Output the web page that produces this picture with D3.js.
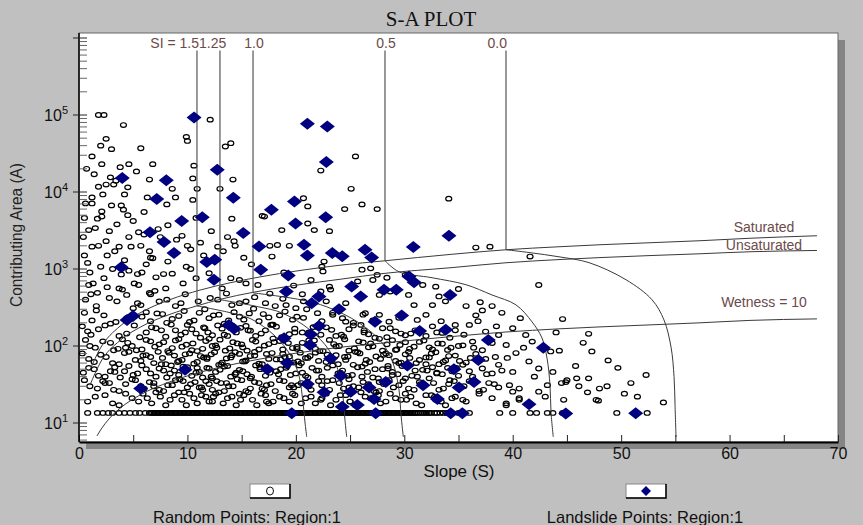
<!DOCTYPE html>
<html>
<head>
<meta charset="utf-8">
<script src="https://cdn.jsdelivr.net/npm/d3@7"></script>
<style>
body { margin: 0; background: #c0c0c0; }
svg { display: block; font-family: "Liberation Sans", Arial, sans-serif; }
</style>
</head>
<body>
<svg id="chart" width="863" height="525"></svg>
<script>
"use strict";

// random points [slope, contributing area]
var randomUpper = [
	[1.8,100000],[2.3,100000],[4.1,74000],[2.5,49000],[3.0,36000],[5.7,37000],[1.2,29000],[2.1,23000],[4.6,23000],[3.8,21000],
	[1.4,17000],[2.9,15500],[1.8,11700],[2.5,12500],[3.2,12500],[4.5,11500],[2.2,9300],[4.2,9300],[1.2,8500],[0.6,7100],
	[1.2,7100],[3.0,6700],[3.9,6700],[4.1,5900],[4.5,5000],[0.5,4600],[2.1,4800],[1.7,4500],[3.5,3800],[6.5,14500],
	[6.3,8500],[8.9,8500],[8.1,6900],[9.9,52000],[10.0,46000],[12.1,87000],[10.6,22000],[10.5,15000],[10.9,11000],[10.5,7900],
	[13.5,39000],[14.0,43000],[13.0,11000],[14.2,14500],[14.1,4500],[16.9,4900],[17.1,4800],[10.8,4600],
	[25.5,29000],[22.3,19000],[25.1,11000],[20.7,8300],[21.1,6500],[26.1,6900],[24.5,6000],[27.5,6000],[34.1,8200],[21.1,3900],
	[2.1,5600],[0.9,3200],[5.0,4200],[6.0,5500],[8.2,3700],[9.5,2700],[11.2,2200],[3.4,14000],[5.3,18500],[0.7,20000],
	[2.0,40000],[6.8,23000],[8.6,11000]
];

var randomMid = [
	[2.8,3100],[4.6,2600],[5.5,3000],[6.0,2800],[7.3,3300],[7.5,2600],[12.2,3100],[13.7,2600],[14.3,2300],[18.7,3200],
	[17.6,2000],[18.3,2050],[19.4,2000],[1.2,1950],[1.8,2000],[3.7,1950],[4.8,1950],[5.7,2000],[6.5,1700],[6.6,1400],
	[6.8,1380],[10.0,2000],[10.3,1800],[12.8,1950],[13.3,1700],[14.4,2000],[15.2,1400],[2.0,1070],[3.1,1000],[4.6,950],
	[5.4,860],[5.8,900],[5.1,650],[5.5,620],[7.8,860],[8.6,870],[9.9,1070],[10.3,1000],[10.8,760],[14.0,760],
	[14.8,720],[15.4,650],[1.3,650],[0.9,620],[2.3,760],[3.7,560],[4.0,540],[1.7,490],[1.1,470],[0.6,400],
	[2.8,420],[5.7,340],[5.4,360],[6.5,490],[6.6,470],[7.4,380],[8.1,400],[8.9,330],[9.4,360],[12.1,420],
	[12.8,400],[14.1,340],[14.8,360],[15.4,380],[17.2,360],[18.1,330],[19.1,340],[20.0,310],
	[21.7,3200],[23.1,3100],[36.6,1900],[37.9,1950],[41.6,1450],[22.6,1250],[22.4,1070],[22.5,930],[26.1,980],[26.9,1020],
	[27.5,840],[28.4,770],[21.4,720],[23.1,590],[25.7,690],[27.1,720],[30.1,840],[31.7,620],[32.9,590],[33.2,440],
	[35.0,550],[42.4,620],[28.7,510],[30.4,460],[30.9,340],[27.7,460],[22.3,510],[23.2,540],[20.7,380],[22.8,380],
	[24.6,360],[32.6,340],[33.8,380],[35.7,330],[36.6,250],[37.2,290],[38.1,330],[37.0,370],[39.0,270],
	[26.4,267],[27.7,254],[28.6,207],[29.5,232],[31.2,218],[32.0,254],[33.4,210],[34.7,188],[20.7,232],[22.0,267],
	[23.4,254],[24.6,207],[36.0,188],[37.5,154],[38.7,139],[40.0,170],[36.3,114],[38.1,109],[39.4,103],[41.2,139],
	[41.8,114],[43.5,85],[40.3,81],[41.5,63],[38.7,57],[40.0,46],[42.4,51],[43.7,46],[43.2,31],[42.4,25.5],
	[43.0,22],[40.0,25.5],[40.6,21],[39.4,17],
	[0.4,2600],[1.5,3400],[2.5,2300],[3.3,1700],[4.2,1300],[0.8,1200],[2.6,1500],[3.9,850],[6.2,1150],[7.1,780],
	[8.2,1250],[9.0,2400],[9.6,650],[11.5,1500],[12.0,880],[13.2,560],[15.9,1150],[16.5,620],[17.8,1450],[18.9,900],
	[19.8,610],[1.6,330],[2.6,580],[3.5,380],[4.4,460],[7.0,520],[8.0,560],[9.8,470],[11.0,380],[13.6,480],
	[16.2,430],[17.6,480],[18.8,410],[20.6,470],[1.0,900],[0.5,1500]
];

var randomLeftRows = [
	[0.5,270],[1.2,215],[2.3,250],[3.4,205],[5.8,240],[6.2,275],[6.6,210],[7.7,260],[8.6,225],[9.2,245],[10.2,205],
	[11.1,270],[12.0,230],[12.9,255],[13.8,215],[14.8,240],[15.7,265],[16.6,210],[17.5,235],[18.5,250],[19.7,220],
	[0.3,180],[1.1,140],[1.8,165],[3.7,135],[5.1,185],[6.2,150],[7.1,170],[8.0,132],[8.9,160],[10.0,188],
	[10.8,145],[11.5,175],[12.3,138],[13.2,168],[14.5,150],[15.4,182],[16.3,135],[17.2,160],[18.2,178],[19.4,142],
	[0.6,120],[1.5,95],[2.9,110],[3.2,88],[4.0,122],[4.9,100],[5.8,90],[6.6,115],[7.4,105],[8.2,86],[8.9,118],[9.5,98],
	[10.5,108],[11.4,92],[12.0,124],[12.6,102],[13.5,87],[14.2,112],[15.1,96],[16.0,120],[16.6,90],[17.5,106],[18.5,116],[19.7,94],
	[0.3,80],[1.4,62],[2.5,72],[3.7,58],[4.6,84],[5.2,66],[6.2,76],[6.9,60],[7.7,70],[8.3,82],[9.2,64],[9.8,78],[10.6,59],
	[11.2,74],[11.8,68],[12.5,83],[13.2,61],[14.0,71],[14.8,79],[15.4,65],[16.2,75],[16.9,58],[17.8,81],[18.6,67],[19.4,73],[20.2,63],
	[0.9,52],[1.8,41],[2.9,47],[3.8,39],[4.6,55],[5.4,44],[6.2,50],[7.1,40],[7.8,48],[8.5,56],[9.2,42],[10.0,53],[10.8,45],
	[11.4,39],[12.0,51],[12.6,46],[13.4,54],[14.0,40],[14.8,49],[15.5,43],[16.3,56],[17.2,41],[18.2,47],[19.1,52],[20.0,44],
	[0.5,36],[1.7,28],[2.8,33],[3.7,26],[4.9,37],[5.7,30],[6.5,34],[7.4,27],[8.2,31],[8.9,36],[9.7,25],[10.3,32],[11.1,29],
	[11.7,35],[12.3,27],[13.1,33],[13.8,30],[14.6,37],[15.4,26],[16.2,34],[16.9,28],[17.7,32],[18.5,36],[19.4,29],[20.2,31],
	[1.5,22],[3.1,18],[4.3,24],[5.5,19],[6.3,21],[7.1,25],[8.0,17],[8.8,23],[9.5,20],[10.2,24],[10.9,18],
	[11.7,22],[12.3,19],[12.9,25],[13.7,21],[14.5,17],[15.2,23],[16.0,20],[16.8,24],[17.5,18],[18.5,22],[19.4,19]
];

var randomRightRows = [
	[21.2,150],[22.8,175],[23.7,135],[24.9,165],[26.0,188],[26.7,142],[28.0,170],[29.2,155],[30.1,138],[32.6,180],[33.5,148],[34.7,160],
	[20.6,110],[21.8,92],[23.1,120],[24.0,100],[24.9,87],[25.8,115],[26.7,96],[27.7,124],[28.4,105],[29.2,89],[30.1,112],
	[30.9,98],[31.8,118],[32.6,90],[33.5,107],[34.3,95],[35.4,102],[37.2,88],
	[20.9,70],[21.8,82],[22.8,62],[23.7,76],[24.6,66],[25.5,84],[26.4,59],[27.4,73],[28.3,80],[29.2,64],[30.1,78],
	[31.1,60],[32.0,71],[32.9,83],[33.8,65],[34.7,75],[35.7,61],[36.6,79],[37.5,68],[38.4,72],
	[20.6,45],[21.5,52],[22.4,40],[23.4,56],[24.3,48],[25.2,42],[26.1,54],[27.1,39],[28.0,50],[28.9,46],[29.8,55],
	[30.7,41],[31.7,49],[32.6,53],[33.5,43],[34.4,47],[35.4,57],[36.3,40],[37.2,51],[38.1,44],[39.0,48],
	[21.2,30],[22.1,35],[23.1,27],[24.0,33],[24.9,37],[25.8,29],[26.7,32],[27.7,26],[28.6,36],[29.5,31],[30.4,28],
	[31.4,34],[32.3,38],[33.2,27],[34.1,32],[35.1,30],[36.0,35],[36.9,26],[37.8,33],[38.7,29],[39.7,31],[40.6,28],
	[20.9,21],[21.8,18],[22.8,24],[23.7,20],[24.6,23],[25.5,17],[26.4,22],[27.4,25],[28.3,19],[29.2,21],[30.1,24],
	[31.1,18],[32.0,23],[32.9,20],[33.8,17],[34.7,22],[35.7,19],[36.9,24],[38.1,21],[39.4,18],[40.6,20]
];

var randomCore = [
	[8.4,44],[9.1,62],[9.6,35],[10.4,88],[10.9,52],[11.3,29],[11.8,71],[12.2,40],[12.7,95],[13.1,58],[13.6,33],[14.1,76],
	[14.5,45],[15.0,105],[15.3,63],[15.8,38],[16.2,84],[16.7,50],[17.1,27],[17.5,68],[18.0,112],[18.4,43],[18.8,79],[19.2,55],
	[19.6,31],[20.1,92],[20.5,60],[20.9,41],[21.3,74],[21.7,118],[22.1,48],[22.5,86],[22.9,35],[23.3,64],[23.7,99],[24.1,45],
	[24.5,72],[24.9,29],[25.3,57],[25.7,83],[26.1,40],[26.5,66],[26.9,108],[27.3,50],[27.7,34],[28.1,77],[28.5,55],[28.9,42],
	[29.3,90],[29.7,61],[30.1,38],[30.5,70],[31.0,48],[31.5,32],[32.0,58],[32.5,80],[33.0,44],[33.6,62],[34.2,36],[34.8,52],
	[9.8,150],[11.6,170],[13.4,140],[15.6,160],[17.8,190],[19.9,150],[22.0,175],[24.2,140],[26.3,160],[28.4,130],[30.6,145],
	[12.4,22],[14.8,24],[17.3,19],[19.9,23],[22.4,21],[25.0,19],[27.6,23],[30.2,20],[32.8,22],[6.9,30],[7.6,58],[5.9,75],
	[4.3,95],[3.3,46],[2.4,33]
];

// second, offset pass through the dense core
var randomCoreB = [
	[1.6,290],[2.9,195],[4.4,230],[5.0,310],[7.2,265],[8.1,200],[9.7,285],[10.6,215],[11.6,300],[12.4,250],[13.4,195],
	[14.3,275],[15.2,220],[16.1,305],[17.0,260],[17.9,190],[19.0,280],[20.1,240],[21.0,300],[22.4,210],[23.4,270],
	[24.3,230],[25.3,200],[26.2,255],[27.1,215],
	[0.8,155],[2.4,185],[4.4,145],[5.6,130],[6.7,175],[7.6,160],[8.5,190],[9.4,140],[10.4,165],[11.2,128],[11.9,150],
	[12.8,185],[13.7,135],[14.9,172],[15.8,158],[16.8,145],[17.7,188],[18.7,130],[19.9,168],[20.6,150],[21.6,176],
	[22.3,140],[23.3,162],[24.4,132],[25.3,185],[26.3,150],[27.3,128],[28.7,170],[29.7,145],[31.0,160],[32.0,135],
	[33.0,150],[34.2,128],[35.5,140],
	[1.0,100],[2.2,115],[3.6,92],[4.5,110],[5.3,88],[6.2,120],[7.0,98],[7.8,112],[8.6,94],[9.2,123],[9.9,104],[10.9,86],
	[11.7,116],[12.3,100],[13.0,121],[13.9,93],[14.6,108],[15.5,87],[16.3,114],[17.1,101],[17.9,125],[18.8,90],[19.3,109],
	[20.1,97],[21.2,118],[22.2,86],[23.5,106],[24.5,122],[25.4,93],[26.2,111],[27.1,99],[28.0,87],[28.9,119],[29.6,103],
	[30.5,92],[31.4,113],[32.3,96],[33.1,108],[34.0,89],[35.0,100],[36.4,95],
	[0.9,68],[2.0,77],[3.1,60],[4.2,81],[5.7,64],[6.6,72],[7.3,84],[8.0,58],[8.8,75],[9.5,66],[10.2,80],[10.9,62],[11.5,71],
	[12.2,78],[12.9,57],[13.6,69],[14.4,83],[15.1,63],[15.8,74],[16.6,59],[17.3,79],[18.2,67],[19.0,72],[19.8,61],[20.4,82],
	[21.1,70],[22.1,64],[22.9,77],[23.9,58],[24.8,73],[25.9,80],[26.8,62],[27.8,68],[28.6,76],[29.5,60],[30.4,84],[31.4,66],
	[32.3,71],[33.2,58],[34.1,74],[35.1,64],[36.1,70],
	[0.4,45],[1.4,50],[2.4,40],[3.3,53],[4.2,47],[5.0,42],[5.8,56],[6.6,44],[7.4,51],[8.1,39],[8.8,48],[9.6,54],[10.4,41],
	[11.1,46],[11.8,52],[12.3,38],[13.0,49],[13.7,55],[14.4,43],[15.1,47],[15.9,40],[16.7,53],[17.6,45],[18.6,50],[19.5,42],
	[20.3,56],[21.1,39],[21.9,48],[22.9,52],[23.9,44],[24.8,41],[25.7,53],[26.6,46],[27.6,38],[28.5,51],[29.4,43],[30.3,55],
	[31.2,40],[32.1,48],[33.0,45],[34.0,52],[35.0,41],[36.0,47],[37.6,43],
	[1.0,30],[2.2,35],[3.2,27],[4.3,32],[5.2,36],[6.0,28],[6.9,33],[7.8,26],[8.6,31],[9.3,37],[10.0,29],[10.7,34],[11.4,27],
	[12.0,32],[12.7,35],[13.4,26],[14.2,30],[15.0,36],[15.8,28],[16.6,33],[17.3,31],[18.1,26],[18.9,35],[19.8,29],[20.5,33],
	[21.4,27],[22.4,31],[23.4,36],[24.4,28],[25.3,30],[26.2,34],[27.2,26],[28.1,32],[29.0,29],[29.9,35],[30.9,27],[31.8,31],
	[32.7,33],[33.6,28],[34.6,35],[35.5,30],[37.3,27],[38.3,32],
	[0.8,19],[2.4,23],[3.7,17],[4.9,21],[5.9,24],[6.7,18],[7.5,22],[8.4,20],[9.2,25],[9.9,17],[10.6,21],[11.3,23],[12.0,19],
	[12.6,24],[13.3,18],[14.1,22],[14.9,20],[15.6,25],[16.4,17],[17.2,23],[17.9,19],[18.9,21],[19.7,24],[20.5,18],[21.4,22],
	[22.3,20],[23.2,17],[24.1,23],[25.0,19],[26.0,25],[26.9,21],[27.8,18],[28.7,24],[29.7,20],[30.6,22],[31.6,17],[32.5,23],
	[33.4,19],[34.4,21],[35.4,20]
];

var randomFar = [
	[44.6,224],[47.0,144],[44.3,87],[47.3,85],[49.7,52],[47.0,38],[44.9,34],[44.5,33],[46.1,30],[46.9,25],[48.0,28],
	[48.7,30],[50.9,33],[44.7,20],[47.9,19.5],[53.9,18.5],[45.0,36],[45.9,38],[47.7,20],
	[39.5,70],[41.0,95],[42.0,40],[45.8,55],[46.5,110],[48.8,65],[50.3,24],[51.5,22],[52.3,42],[44.0,150],[40.7,230],
	[38.5,180],[36.8,210]
];

// the floor row of random points sits at one area value
var floorArea = 13.5;
var floorSlopes = [
	0.8,1.7,2.2,2.7,3.1,3.7,4.2,4.7,5.2,5.6,6.1,
	6.5,6.8,7.1,7.4,7.7,8.0,8.3,8.6,8.9,9.2,9.5,9.8,10.1,10.4,10.7,11.0,11.3,11.6,11.9,12.2,12.5,12.8,13.1,13.4,13.7,14.0,
	14.3,14.6,14.9,15.2,15.5,15.8,16.1,16.4,16.7,17.0,17.3,17.6,17.9,18.2,18.5,18.8,19.1,19.4,19.7,20.0,20.3,20.6,20.9,
	21.2,21.5,21.8,22.1,22.4,22.7,23.0,23.3,23.6,23.9,24.2,24.5,24.8,25.1,25.4,25.7,26.0,26.3,26.6,26.9,27.2,27.5,27.8,
	28.1,28.4,28.7,29.0,29.3,29.6,29.9,30.2,30.5,30.8,31.1,31.5,31.9,32.3,32.8,33.3,33.9,
	35.0,36.0,38.8,40.0,41.6,42.2,43.2,43.7,44.6,49.6,52.4
];
var floorSlopesDense = [
	6.65,6.95,7.25,7.55,7.85,8.15,8.45,8.75,9.05,9.35,9.65,9.95,10.25,10.55,10.85,11.15,11.45,11.75,12.05,12.35,12.65,
	12.95,13.25,13.55,13.85,14.15,14.45,14.75,15.05,15.35,15.65,15.95,16.25,16.55,16.85,17.15,17.45,17.75,18.05,18.35,
	18.65,18.95,19.25,19.55,19.85,20.15,20.45,20.75,21.05,21.35,21.65,21.95,22.25,22.55,22.85,23.15,23.45,23.75,24.05,
	24.35,24.65,24.95,25.25,25.55,25.85,26.15,26.45,26.75,27.05,27.35,27.65,27.95,28.25,28.55,28.85,29.15,29.45,29.75,
	30.05,30.35,30.65,30.95,31.3,31.7,32.1,32.5,33.0,33.6
];

// landslide points [slope, contributing area]
var landslides = [
	[10.61,93000],[21.06,77000],[22.90,71000],[12.75,19500],[3.99,15200],[8.05,14200],[14.23,8400],[7.17,8100],
	[17.74,5900],[19.87,7500],[11.37,4700],[9.47,4200],[19.97,3900],[22.81,24500],[22.75,4700],[34.12,2700],
	[6.55,3000],[7.84,2240],[8.76,1610],[3.90,1050],[11.78,1230],[12.52,1320],[12.45,725],[15.15,2930],
	[16.60,1960],[16.76,980],[19.30,823],[19.12,509],[4.43,218],[4.98,246],[13.83,188],[14.29,167],
	[18.91,126],[19.21,60],[17.37,50],[9.78,49],[5.69,28],[19.62,13.4],[20.75,2070],[21.06,1500],
	[23.36,1610],[24.28,1460],[26.38,1780],[26.99,1410],[30.83,1930],[30.43,798],[30.90,675],[25.15,592],
	[25.98,439],[28.13,537],[29.26,537],[34.22,458],[22.13,439],[21.46,360],[23.98,301],[29.76,249],
	[27.30,207],[31.42,157],[33.82,162],[22.13,182],[21.37,142],[21.30,103],[37.75,120],[42.82,95],
	[23.21,69],[36.83,66],[30.28,56],[34.58,50],[24.14,41],[21.06,32],[28.29,34],[36.43,34],
	[26.75,29],[31.73,31],[35.05,29],[22.60,25],[25.06,25.5],[27.21,20.5],[33.05,20.5],[25.67,17.1],
	[24.28,16.3],[41.50,17.5],[27.36,13.4],[34.28,13.4],[35.35,13.4],[44.89,13.3],[51.34,13.4]
];

// stability index lines: vertical part, then the bend to the dry slope
var siLabels = ["SI = 1.5", "1.25", "1.0", "0.5", "0.0"];
var siCurves = [
	[[10.88,690000],[10.88,332],[14.02,269],[15.86,225],[18.08,135],[19.55,74],[20.29,41],[20.66,18.2],[20.84,10.3],[21.0,6.6]],
	[[13.0,690000],[13.0,400],[16.6,322],[18.72,269],[21.3,162],[23.05,89],[23.88,49],[24.35,21.8],[24.53,10.9],[24.69,6.6]],
	[[16.05,690000],[16.05,490],[20.38,400],[22.87,322],[25.82,200],[27.94,110],[28.96,60],[29.51,27],[29.7,12.7],[29.91,6.6]],
	[[28.22,690000],[28.22,1280],[29.51,920],[32.56,770],[35.69,625],[38.09,460],[40.3,342],[41.78,206],[42.7,127],[43.16,70],[43.44,31],[43.53,13.9],[43.74,6.6]],
	[[39.38,690000],[39.38,1780],[41.59,1630],[44.27,1440],[47.03,1210],[50.45,725],[52.84,400],[53.95,218],[54.6,97],[54.88,40],[54.97,17],[55.06,6.6]]
];

var wetLabels = ["Saturated", "Unsaturated", "Wetness = 10"];
var saturatedLine = [[1.01,49],[1.94,92],[3.78,181],[5.63,269],[8.39,400],[11.16,532],[13.93,662],[16.69,789],[20.29,953],[24.07,1120],[28.22,1279],[34.22,1545],[39.38,1778],[44.27,1945],[48.05,2066],[52.66,2193],[57.27,2329],[61.88,2508],[68.06,2702]];
var unsaturatedLine = [[1.01,31],[1.94,60],[3.78,118],[5.63,175],[8.39,258],[10.88,332],[13.0,403],[16.05,498],[20.29,624],[24.07,735],[28.22,879],[34.22,1037],[39.38,1205],[44.27,1326],[48.05,1407],[52.66,1494],[57.27,1577],[61.88,1675],[68.06,1741]];
var wetnessLine = [[1.66,6.8],[1.94,7.9],[2.86,11.7],[3.78,15.5],[5.63,23.1],[8.39,34.3],[11.16,45.6],[13.93,56.7],[16.69,67.7],[20.29,81.8],[24.07,96.2],[28.22,110],[34.22,132],[39.38,152],[44.27,167],[48.05,177],[52.66,188],[57.27,200],[61.88,215],[68.06,225]];

var xTicks = [0, 5, 10, 15, 20, 25, 30, 35, 40, 45, 50, 55, 60, 65, 70];
var yExponents = [1, 2, 3, 4, 5];
var legendLabels = ["Random Points: Region:1", "Landslide Points: Region:1"];

var svg = d3.select("#chart");
const pL = 79, pR = 838, pT = 33, pB = 442;
const labelColour = "#6b4a4a";

let x = d3.scaleLinear().domain([0, 70]).range([pL, pR]);
let y = d3.scaleLog().domain([10, 1e5]).range([423, 115]);

// background, shadow and frame
svg.append("rect").attr("width", 863).attr("height", 525).attr("fill", "#c0c0c0");
svg.append("rect")
	.attr("x", pL + 7).attr("y", pT + 7)
	.attr("width", pR - pL).attr("height", pB - pT)
	.attr("fill", "#858585");
svg.append("rect")
	.attr("x", pL).attr("y", pT)
	.attr("width", pR - pL).attr("height", pB - pT)
	.attr("fill", "#fff").attr("stroke", "#666").attr("stroke-width", 1);

svg.append("clipPath").attr("id", "plotClip")
	.append("rect").attr("x", pL).attr("y", pT).attr("width", pR - pL).attr("height", pB - pT);

svg.append("text")
	.attr("x", 431).attr("y", 26)
	.attr("text-anchor", "middle")
	.style("font-family", "'Liberation Serif', 'Times New Roman', serif")
	.style("font-size", "21px")
	.attr("fill", "#111")
	.text("S-A PLOT");

let plot = svg.append("g").attr("clip-path", "url(#plotClip)");

// random points
let floorPoints = floorSlopes.concat(floorSlopesDense).map(s => [s, floorArea]);
let allRandom = randomUpper.concat(randomMid, randomLeftRows, randomRightRows, randomCore, randomCoreB, randomFar, floorPoints);

plot.append("g").selectAll("ellipse")
	.data(allRandom)
	.enter()
	.append("ellipse")
		.attr("cx", d => x(d[0]))
		.attr("cy", d => y(d[1]))
		.attr("rx", 3)
		.attr("ry", 2.3)
		.attr("fill", "none")
		.attr("stroke", "#000")
		.attr("stroke-width", 1.2);

// model lines
let lineGen = d3.line().x(d => x(d[0])).y(d => y(d[1]));
let smoothX = d3.line().x(d => x(d[0])).y(d => y(d[1])).curve(d3.curveMonotoneX);
let bend = d3.line().x(d => x(d[0])).y(d => y(d[1])).curve(d3.curveCatmullRom.alpha(0.5));

[saturatedLine, unsaturatedLine, wetnessLine].forEach((pts) => {
	plot.append("path").attr("d", smoothX(pts))
		.attr("fill", "none").attr("stroke", "#3a3a3a").attr("stroke-width", 1);
});

siCurves.forEach((pts) => {
	plot.append("path").attr("d", lineGen(pts.slice(0, 2)))
		.attr("fill", "none").attr("stroke", "#555").attr("stroke-width", 1.2);
	plot.append("path").attr("d", bend(pts.slice(1)))
		.attr("fill", "none").attr("stroke", "#3a3a3a").attr("stroke-width", 1);
});

// landslides on top
plot.append("g").selectAll("path")
	.data(landslides)
	.enter()
	.append("path")
		.attr("d", "M0,-6L7.5,0L0,6L-7.5,0Z")
		.attr("transform", d => `translate(${x(d[0])},${y(d[1])})`)
		.attr("fill", "#000080");

// SI labels across the top; "SI = 1.5" and "1.25" run together
let siX = [x(siCurves[0][0][0]) + 2, x(siCurves[0][0][0]) + 2, x(siCurves[2][0][0]) + 1, x(siCurves[3][0][0]) + 1, x(siCurves[4][0][0]) + 1];
let siAnchor = ["end", "start", "middle", "middle", "end"];
siLabels.forEach((label, i) => {
	svg.append("text")
		.attr("x", siX[i])
		.attr("y", 48)
		.attr("text-anchor", siAnchor[i])
		.style("font-size", "14px")
		.attr("fill", labelColour)
		.text(label);
});

// wetness labels at the right end
let wetY = [saturatedLine, unsaturatedLine, wetnessLine].map(l => l[l.length - 1][1]);
let wetLift = [4, 0, 12];
wetLabels.forEach((label, i) => {
	svg.append("text")
		.attr("x", 764)
		.attr("y", y(wetY[i]) - wetLift[i])
		.attr("text-anchor", "middle")
		.style("font-size", "14px")
		.attr("fill", labelColour)
		.text(label);
});

// x axis
let xAxis = d3.axisBottom(x)
	.tickValues(xTicks)
	.tickSizeInner(-7)
	.tickSizeOuter(0)
	.tickPadding(6)
	.tickFormat(d => d % 10 === 0 ? d : "");
let xg = svg.append("g").attr("transform", `translate(0,${pB})`).call(xAxis);
xg.select(".domain").attr("stroke", "#000").attr("stroke-width", 2);
xg.selectAll(".tick line").attr("stroke", "#222");
xg.selectAll("text").style("font-size", "16px").style("font-family", "'Liberation Sans', Arial, sans-serif").attr("fill", "#111");

svg.append("text")
	.attr("x", 459).attr("y", 477)
	.attr("text-anchor", "middle")
	.style("font-size", "17px")
	.attr("fill", "#111")
	.text("Slope (S)");

// y axis, log ticks
svg.append("line")
	.attr("x1", pL).attr("x2", pL).attr("y1", pT).attr("y2", pB)
	.attr("stroke", "#000").attr("stroke-width", 1.5);

let yTicks = [];
for (let e = 0; e <= 6; e++) {
	for (let k = 1; k <= 9; k++) {
		let v = k * Math.pow(10, e);
		if (y(v) >= pT + 2 && y(v) <= pB - 1) yTicks.push({v: v, major: k === 1});
	}
}
svg.append("g").selectAll("line")
	.data(yTicks)
	.enter()
	.append("line")
		.attr("x1", d => d.major ? pL - 6 : pL + 1)
		.attr("x2", pL + 8)
		.attr("y1", d => y(d.v))
		.attr("y2", d => y(d.v))
		.attr("stroke", d => d.major ? "#222" : "#666")
		.attr("stroke-width", 1);

yExponents.forEach((e) => {
	let t = svg.append("text")
		.attr("x", 68)
		.attr("y", y(Math.pow(10, e)) + 6)
		.attr("text-anchor", "end")
		.style("font-size", "16px")
		.attr("fill", "#111");
	t.append("tspan").text("10");
	t.append("tspan").attr("dy", -7).style("font-size", "11px").text(e);
});

svg.append("text")
	.attr("transform", "translate(22,235) rotate(-90)")
	.attr("text-anchor", "middle")
	.attr("textLength", 144)
	.attr("lengthAdjust", "spacingAndGlyphs")
	.style("font-size", "16px")
	.attr("fill", "#222")
	.text("Contributing Area (A)");

// legend
let legendX = [250, 626];
legendLabels.forEach((label, i) => {
	let g = svg.append("g").attr("transform", `translate(${legendX[i]},484)`);
	g.append("rect").attr("width", 40).attr("height", 14).attr("fill", "#fff").attr("stroke", "#888");
	g.append("path").attr("d", "M40,0V14H0").attr("fill", "none").attr("stroke", "#000").attr("stroke-width", 1.5);
	if (i === 0) {
		g.append("ellipse").attr("cx", 20).attr("cy", 7).attr("rx", 3.5).attr("ry", 4)
			.attr("fill", "none").attr("stroke", "#111");
	} else {
		g.append("path").attr("d", "M20,2L25,7L20,12L15,7Z").attr("fill", "#000080");
	}
	svg.append("text")
		.attr("x", legendX[i] + 20 - (i === 0 ? 23 : 1))
		.attr("y", 523)
		.attr("text-anchor", "middle")
		.style("font-size", "16.5px")
		.attr("fill", "#111")
		.text(label);
});
</script>
</body>
</html>
